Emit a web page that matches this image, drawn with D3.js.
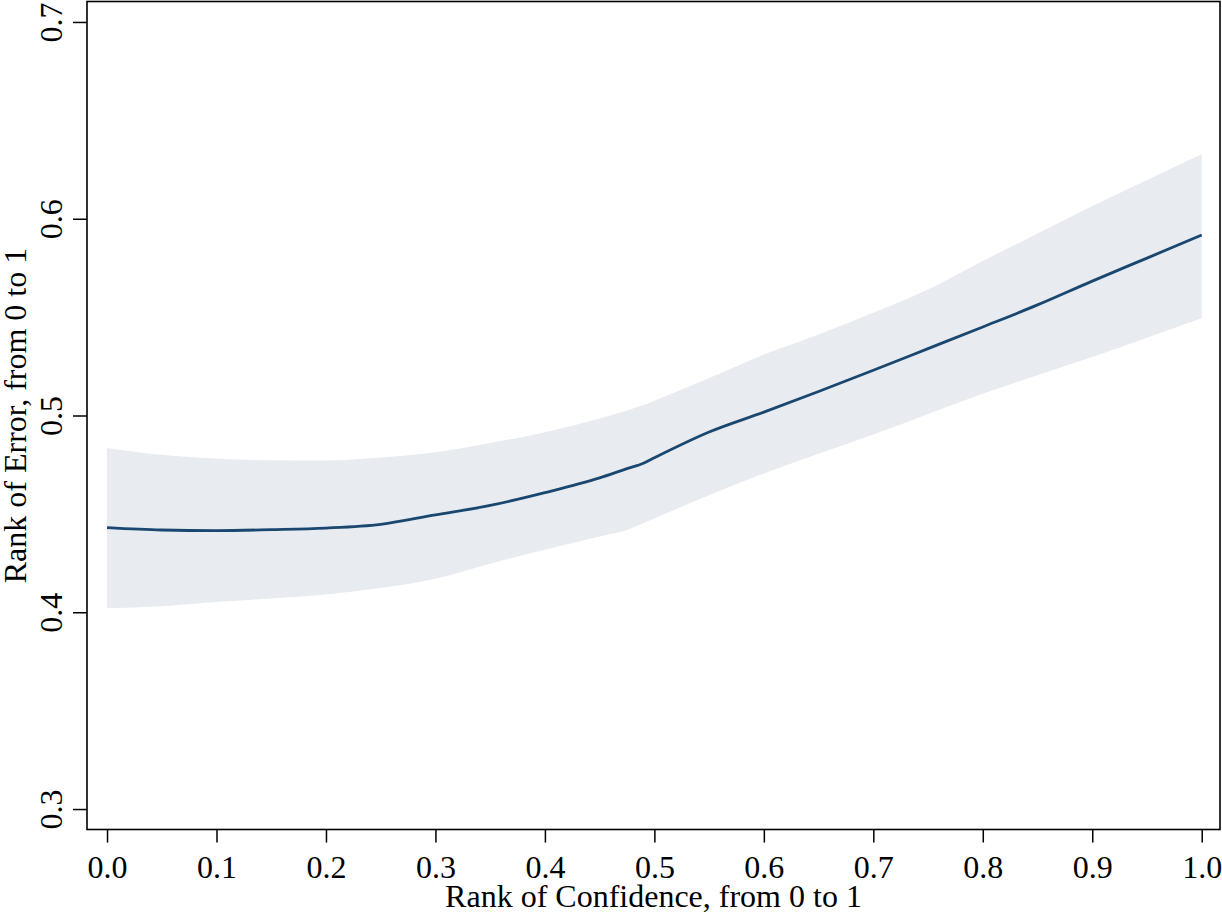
<!DOCTYPE html>
<html>
<head>
<meta charset="utf-8">
<script src="https://cdn.jsdelivr.net/npm/d3@7"></script>
<style>
  body { margin: 0; background: #fff; }
  text { font-family: "Liberation Serif", "Times New Roman", serif; fill: #000; }
</style>
</head>
<body>
<div id="chart"></div>
<script>
// rank of confidence (x) and fitted rank of error with 95% band
const confRank = [0.00, 0.05, 0.10, 0.15, 0.20, 0.25, 0.30, 0.35, 0.40, 0.45, 0.475, 0.49,
                  0.50, 0.55, 0.60, 0.65, 0.70, 0.75, 0.80, 0.85, 0.90, 0.95, 1.00];
const fitErr   = [0.4430, 0.4418, 0.4415, 0.4420, 0.4428, 0.4447, 0.4495, 0.4543, 0.4608, 0.4683, 0.4730, 0.4757,
                  0.4785, 0.4916, 0.5017, 0.5122, 0.5230, 0.5340, 0.5450, 0.5562, 0.5683, 0.5800, 0.5917];
const ciUpper  = [0.4835, 0.4800, 0.4781, 0.4772, 0.4771, 0.4786, 0.4813, 0.4860, 0.4915, 0.4985, 0.5025, 0.5053,
                  0.5075, 0.5190, 0.5310, 0.5412, 0.5522, 0.5640, 0.5785, 0.5925, 0.6065, 0.6197, 0.6329];
const ciLower  = [0.4020, 0.4031, 0.4052, 0.4070, 0.4090, 0.4123, 0.4170, 0.4247, 0.4318, 0.4385, 0.4418, 0.4452,
                  0.4476, 0.4595, 0.4705, 0.4805, 0.4903, 0.5008, 0.5110, 0.5205, 0.5297, 0.5395, 0.5494];

const xTicks = [0, 0.1, 0.2, 0.3, 0.4, 0.5, 0.6, 0.7, 0.8, 0.9, 1.0];
const yTicks = [0.3, 0.4, 0.5, 0.6, 0.7];

const data = confRank.map((x, i) => ({ x: x, y: fitErr[i], lo: ciLower[i], hi: ciUpper[i] }));

const W = 1222, H = 915;
const plotL = 87, plotR = 1220, plotT = 1.5, plotB = 829.5;

const svg = d3.select("#chart")
    .append("svg")
    .attr("width", W)
    .attr("height", H);

const x = d3.scaleLinear().domain([-0.0183, 1.0167]).range([plotL, plotR]);
const y = d3.scaleLinear().domain([0.2896, 0.7104]).range([plotB, plotT]);

// confidence band
svg.append("path")
    .datum(data)
    .attr("fill", "#e8ecf0")
    .attr("d", d3.area()
        .x(d => x(d.x))
        .y0(d => y(d.lo))
        .y1(d => y(d.hi))
        .curve(d3.curveMonotoneX));

// fitted line
svg.append("path")
    .datum(data)
    .attr("fill", "none")
    .attr("stroke", "#1a476f")
    .attr("stroke-width", 2.8)
    .attr("d", d3.line()
        .x(d => x(d.x))
        .y(d => y(d.y))
        .curve(d3.curveMonotoneX));

// plot frame
svg.append("rect")
    .attr("x", plotL)
    .attr("y", plotT)
    .attr("width", plotR - plotL)
    .attr("height", plotB - plotT)
    .attr("fill", "none")
    .attr("stroke", "#000")
    .attr("stroke-width", 1.6);

// x axis
const gx = svg.append("g")
    .attr("transform", `translate(0,${plotB})`)
    .call(d3.axisBottom(x).tickValues(xTicks).tickFormat(d3.format(".1f")).tickSize(13).tickSizeOuter(0));
gx.select(".domain").remove();
gx.selectAll("line").attr("stroke", "#000").attr("stroke-width", 1.5);
gx.selectAll("text")
    .attr("y", 48.5)
    .attr("dy", 0)
    .style("font-size", "32px");

// y axis, labels rotated
const gy = svg.append("g")
    .attr("transform", `translate(${plotL},0)`)
    .call(d3.axisLeft(y).tickValues(yTicks).tickFormat(d3.format(".1f")).tickSize(14).tickSizeOuter(0));
gy.select(".domain").remove();
gy.selectAll("line").attr("stroke", "#000").attr("stroke-width", 1.5);
gy.selectAll("text")
    .attr("transform", "rotate(-90)")
    .attr("text-anchor", "middle")
    .attr("x", 0)
    .attr("y", -25)
    .attr("dy", 0)
    .style("font-size", "32px");

// axis titles
svg.append("text")
    .attr("text-anchor", "middle")
    .attr("x", (plotL + plotR) / 2)
    .attr("y", 907)
    .style("font-size", "32px")
    .text("Rank of Confidence, from 0 to 1");

svg.append("text")
    .attr("text-anchor", "middle")
    .attr("transform", "rotate(-90)")
    .attr("x", -(plotT + plotB) / 2)
    .attr("y", 26)
    .style("font-size", "32px")
    .text("Rank of Error, from 0 to 1");
</script>
</body>
</html>
